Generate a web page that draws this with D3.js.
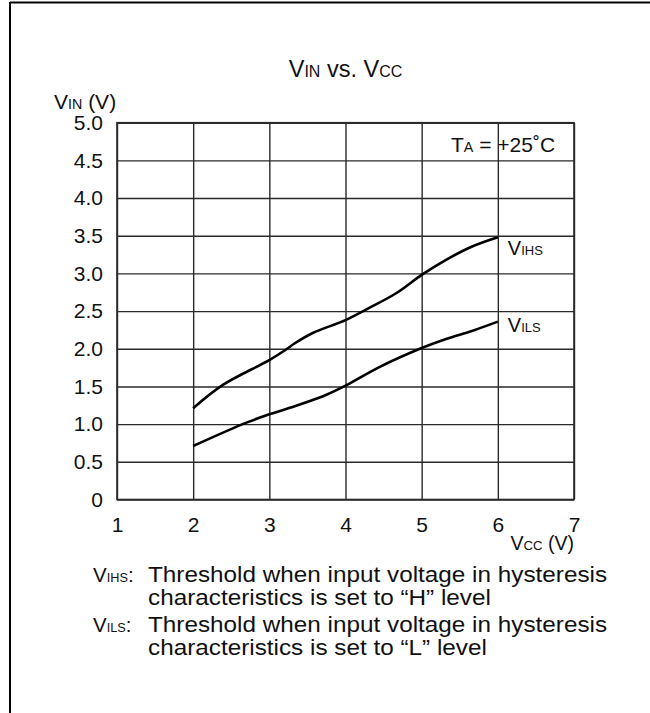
<!DOCTYPE html>
<html>
<head>
<meta charset="utf-8">
<script src="https://cdn.jsdelivr.net/npm/d3@7"></script>
<style>
  html, body { margin: 0; padding: 0; background: #fff; }
  svg { display: block; }
  text { font-family: "Liberation Sans", Arial, Helvetica, sans-serif; fill: #111; }
</style>
</head>
<body>
<svg id="chart" width="650" height="713"></svg>
<script>
// Supply voltage ticks and input-threshold ticks
const vccTicks = [1, 2, 3, 4, 5, 6, 7];
const vccTickLabels = ["1", "2", "3", "4", "5", "6", "7"];
const vinTicks = [0, 0.5, 1.0, 1.5, 2.0, 2.5, 3.0, 3.5, 4.0, 4.5, 5.0];
const vinTickLabels = ["0", "0.5", "1.0", "1.5", "2.0", "2.5", "3.0", "3.5", "4.0", "4.5", "5.0"];

// VIHS: high-side hysteresis threshold
const vihsVcc = [2.0, 2.39, 3.0, 3.22, 3.33, 3.57, 4.0, 4.27, 4.67, 5.0, 5.32, 5.67, 6.0];
const vihsVin = [1.21, 1.52, 1.85, 1.99, 2.07, 2.21, 2.38, 2.52, 2.74, 2.98, 3.18, 3.36, 3.48];

// VILS: low-side hysteresis threshold
const vilsVcc = [2.0, 2.7, 3.0, 3.4, 3.75, 4.0, 4.45, 5.0, 5.32, 5.67, 6.0];
const vilsVin = [0.71, 1.02, 1.13, 1.26, 1.39, 1.51, 1.76, 2.01, 2.13, 2.24, 2.36];

const svg = d3.select("#chart");

// page frame: top and left rules
svg.append("line").attr("x1", 10).attr("x2", 650).attr("y1", 2.5).attr("y2", 2.5)
  .attr("stroke", "#000").attr("stroke-width", 2);
svg.append("line").attr("x1", 10).attr("x2", 10).attr("y1", 2).attr("y2", 713)
  .attr("stroke", "#000").attr("stroke-width", 2);

const plot = { left: 117, right: 574, top: 122.7, bottom: 499.5 };
const x = d3.scaleLinear().domain([1, 7]).range([plot.left, plot.right]);
const y = d3.scaleLinear().domain([0, 5]).range([plot.bottom, plot.top]);
const gridColor = "#2a2a2a";
const tickFont = 21;

// grid + tick labels via axes
const xAxis = d3.axisBottom(x)
  .tickValues(vccTicks)
  .tickFormat((d, i) => vccTickLabels[i])
  .tickSizeInner(-(plot.bottom - plot.top))
  .tickSizeOuter(0)
  .tickPadding(18);
const gx = svg.append("g").attr("transform", `translate(0,${plot.bottom})`).call(xAxis);
gx.select(".domain").remove();
gx.selectAll("line").attr("stroke", gridColor).attr("stroke-width", 1.4);
gx.selectAll("text").attr("font-size", tickFont).attr("fill", "#111")
  .attr("font-family", "Liberation Sans, Arial, sans-serif");

const yAxis = d3.axisLeft(y)
  .tickValues(vinTicks)
  .tickFormat((d, i) => vinTickLabels[i])
  .tickSizeInner(-(plot.right - plot.left))
  .tickSizeOuter(0)
  .tickPadding(14);
const gy = svg.append("g").attr("transform", `translate(${plot.left},0)`).call(yAxis);
gy.select(".domain").remove();
gy.selectAll("line").attr("stroke", gridColor).attr("stroke-width", 1.4);
gy.selectAll("text").attr("font-size", tickFont).attr("fill", "#111")
  .attr("font-family", "Liberation Sans, Arial, sans-serif");

// plot frame
svg.append("rect")
  .attr("x", plot.left).attr("y", plot.top)
  .attr("width", plot.right - plot.left).attr("height", plot.bottom - plot.top)
  .attr("fill", "none").attr("stroke", gridColor).attr("stroke-width", 1.6);

// curves
const line = d3.line().x(d => x(d[0])).y(d => y(d[1])).curve(d3.curveCatmullRom.alpha(0.5));
const series = [
  { name: "VIHS", xs: vihsVcc, ys: vihsVin },
  { name: "VILS", xs: vilsVcc, ys: vilsVin }
];
series.forEach(s => {
  const pts = s.xs.map((v, i) => [v, s.ys[i]]);
  svg.append("path").attr("d", line(pts))
    .attr("fill", "none").attr("stroke", "#000").attr("stroke-width", 2.6)
    .attr("stroke-linejoin", "round").attr("stroke-linecap", "butt");
});

// text helper: main letter followed by small-cap subscript at baseline
function subText(parent, xPos, yPos, parts, size, anchor, ratio) {
  const r = ratio || 0.68;
  const t = parent.append("text").attr("x", xPos).attr("y", yPos)
    .attr("font-size", size).attr("text-anchor", anchor || "start");
  parts.forEach(p => {
    t.append("tspan").attr("font-size", p.small ? size * r : size).text(p.t);
  });
  return t;
}

// title
subText(svg, x(4), 77, [{ t: "V" }, { t: "IN", small: true }, { t: " vs. V" }, { t: "CC", small: true }], 23.5, "middle");

// axis titles
subText(svg, 54, 109, [{ t: "V" }, { t: "IN", small: true }, { t: " (V)" }], 21);
subText(svg, plot.right, 550, [{ t: "V" }, { t: "CC", small: true }, { t: " (V)" }], 19.5, "end");

// ambient temperature note
subText(svg, 451, 152, [{ t: "T" }, { t: "A", small: true }, { t: " = +25˚C" }], 21);

// series labels at line ends
const lastH = vihsVin[vihsVin.length - 1];
const lastL = vilsVin[vilsVin.length - 1];
subText(svg, x(6) + 10, y(lastH) + 18, [{ t: "V" }, { t: "IHS", small: true }], 20, "start", 0.65);
subText(svg, x(6) + 10, y(lastL) + 10, [{ t: "V" }, { t: "ILS", small: true }], 20, "start", 0.65);

// notes below the chart (body text set slightly wide)
const notes = [
  { sym: [{ t: "V" }, { t: "IHS", small: true }, { t: ":" }], lines: ["Threshold when input voltage in hysteresis", "characteristics is set to “H” level"] },
  { sym: [{ t: "V" }, { t: "ILS", small: true }, { t: ":" }], lines: ["Threshold when input voltage in hysteresis", "characteristics is set to “L” level"] }
];
notes.forEach((n, i) => {
  const base = 581.5 + i * 50;
  subText(svg, 93, base, n.sym, 20.5, "start", 0.62);
  const body = svg.append("g").attr("transform", `translate(148,${base}) scale(1.13,1)`);
  n.lines.forEach((l, j) => {
    body.append("text").attr("x", 0).attr("y", j * 23.5).attr("font-size", 21.5).text(l);
  });
});
</script>
</body>
</html>
